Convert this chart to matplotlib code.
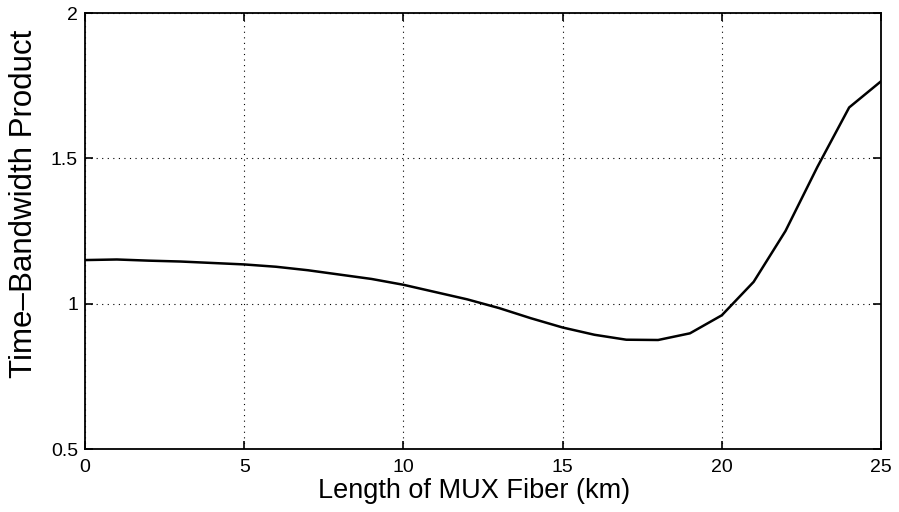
import matplotlib.pyplot as plt

plt.rcParams['font.family'] = ['Liberation Sans', 'DejaVu Sans']

length_km = [0, 1, 2, 3, 4, 5, 6, 7, 8, 9, 10, 11, 12,
             13, 14, 15, 16, 17, 18, 19, 20, 21, 22, 23, 24, 25]
tbp = [1.150, 1.152, 1.148, 1.145, 1.140, 1.135, 1.127, 1.115, 1.100,
       1.085, 1.065, 1.040, 1.015, 0.985, 0.950, 0.918, 0.893, 0.876,
       0.875, 0.898, 0.960, 1.075, 1.250, 1.470, 1.675, 1.765]

x_ticks = [0, 5, 10, 15, 20, 25]
y_ticks = [0.5, 1, 1.5, 2]
y_tick_labels = ['0.5', '1', '1.5', '2']

fig = plt.figure(figsize=(8.99, 5.12), dpi=100)
ax = fig.add_axes([85 / 899, 1 - 449 / 512, 796 / 899, 436 / 512])

ax.plot(length_km, tbp, color='black', linewidth=1.8)

ax.set_xlim(0, 25)
ax.set_ylim(0.5, 2)
ax.set_xticks(x_ticks)
ax.set_yticks(y_ticks)
ax.set_yticklabels(y_tick_labels)
ax.grid(True, color='black', linestyle=(0, (1, 4)), linewidth=0.8)
ax.tick_params(direction='in', top=True, right=True, labelsize=14,
               length=6, width=1.2, pad=5)
ax.tick_params(axis='x', pad=7)
for side in ax.spines.values():
    side.set_linewidth(1.3)

ax.set_xlabel('Length of MUX Fiber (km)', fontsize=19.5)
ax.set_ylabel('Time\u2013Bandwidth Product', fontsize=22.5)
ax.xaxis.set_label_coords(0.489, -0.066)
ax.yaxis.set_label_coords(-0.058, 0.562)

fig.savefig('out.png', dpi=100)
